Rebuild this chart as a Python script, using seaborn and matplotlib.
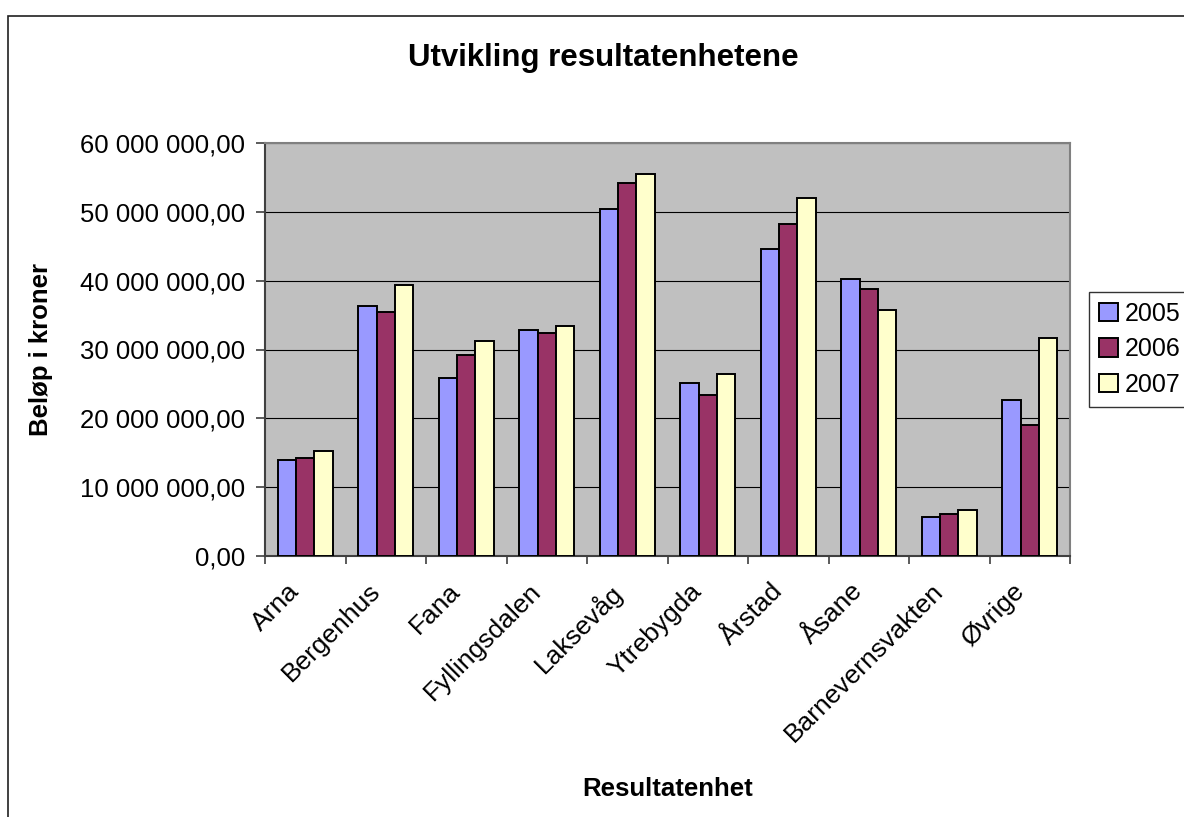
"""Utvikling resultatenhetene - grouped bar chart, Excel look."""

import matplotlib
matplotlib.use("Agg")
import matplotlib.pyplot as plt
import matplotlib.transforms as mtransforms
import numpy as np
import pandas as pd
import seaborn as sns
from matplotlib.patches import Rectangle
from matplotlib.ticker import FixedLocator, FuncFormatter

sns.set_theme(style="white")
plt.rcParams["font.family"] = ["Liberation Sans", "DejaVu Sans"]
plt.rcParams["text.color"] = "black"
plt.rcParams["axes.labelcolor"] = "black"
plt.rcParams["xtick.labelcolor"] = "black"
plt.rcParams["ytick.labelcolor"] = "black"

# data
units = ["Arna", "Bergenhus", "Fana", "Fyllingsdalen", "Laksevåg",
         "Ytrebygda", "Årstad", "Åsane", "Barnevernsvakten", "Øvrige"]
years = ["2005", "2006", "2007"]
v2005 = [13.9e6, 36.3e6, 25.8e6, 32.8e6, 50.4e6, 25.1e6, 44.6e6, 40.2e6, 5.7e6, 22.7e6]
v2006 = [14.3e6, 35.5e6, 29.2e6, 32.4e6, 54.2e6, 23.4e6, 48.2e6, 38.8e6, 6.1e6, 19.0e6]
v2007 = [15.3e6, 39.3e6, 31.3e6, 33.4e6, 55.5e6, 26.4e6, 52.0e6, 35.7e6, 6.7e6, 31.6e6]
colors = ["#9999FF", "#993366", "#FFFFCC"]

df = pd.DataFrame({
    "Resultatenhet": units * 3,
    "År": [y for y in years for _ in units],
    "Beløp": v2005 + v2006 + v2007,
})

W, H = 1184, 817
fig = plt.figure(figsize=(W / 100, H / 100), dpi=100)
ax = fig.add_axes([265 / W, 1 - 556 / H, 805 / W, 413 / H])

sns.barplot(data=df, x="Resultatenhet", y="Beløp", hue="År", order=units,
            hue_order=years, palette=colors, width=0.68, saturation=1,
            edgecolor="black", linewidth=1.4, errorbar=None, ax=ax, zorder=3)

ax.set_facecolor("#C0C0C0")
ax.set_ylim(0, 60e6)
ax.set_xlim(-0.5, len(units) - 0.5)
ax.set_yticks(np.arange(0, 60e6 + 1, 10e6))
ax.yaxis.set_major_formatter(FuncFormatter(
    lambda v, _: f"{v:,.2f}".replace(",", " ").replace(".", ",")))
ax.grid(axis="y", color="black", linewidth=0.8, zorder=1)
ax.set_axisbelow(True)

for side in ["top", "right"]:
    ax.spines[side].set_color("#808080")
    ax.spines[side].set_linewidth(1.5)
for side in ["left", "bottom"]:
    ax.spines[side].set_color("#404040")
    ax.spines[side].set_linewidth(1.5)

ax.tick_params(axis="y", which="major", left=True, length=6.5, width=1.2,
               color="#404040", pad=8, labelsize=18.5)
ax.tick_params(axis="x", which="major", bottom=False, length=0, pad=10,
               labelsize=19)
ax.xaxis.set_minor_locator(FixedLocator(np.arange(-0.5, len(units), 1.0)))
ax.tick_params(axis="x", which="minor", bottom=True, length=6, width=1.2,
               color="#404040", direction="out")
shift = mtransforms.ScaledTranslation(-18 / 100, -9 / 100, fig.dpi_scale_trans)
for lbl in ax.get_xticklabels():
    lbl.set_rotation(45)
    lbl.set_ha("right")
    lbl.set_rotation_mode("anchor")
    lbl.set_transform(lbl.get_transform() + shift)

ax.set_xlabel("Resultatenhet", fontsize=18.5, fontweight="bold")
ax.set_ylabel("Beløp i kroner", fontsize=18.5, fontweight="bold")
ax.xaxis.set_label_coords(0.5, (556 - 777) / 413)
ax.yaxis.set_label_coords((53 - 265) / 805, 0.5)

leg = ax.legend(loc="upper left", bbox_to_anchor=(1089 / W, 1 - 292 / H),
                bbox_transform=fig.transFigure, title=None, fontsize=18,
                frameon=True, fancybox=False, edgecolor="black",
                handlelength=0.75, handleheight=0.75, handletextpad=0.3,
                labelspacing=0.45, borderpad=0.4, borderaxespad=0)
leg.get_frame().set_linewidth(1.0)

fig.text(603 / W, 1 - 58 / H, "Utvikling resultatenhetene", fontsize=22.5,
         fontweight="bold", ha="center", va="center")

# outer chart border (cropped at right and bottom in the reference)
fig.patches.append(Rectangle((8 / W, -0.1), 2.0, 1.1 - 16 / H, fill=False,
                             edgecolor="#202020", linewidth=1.2,
                             transform=fig.transFigure, clip_on=False))

fig.savefig("out.png", dpi=100)
